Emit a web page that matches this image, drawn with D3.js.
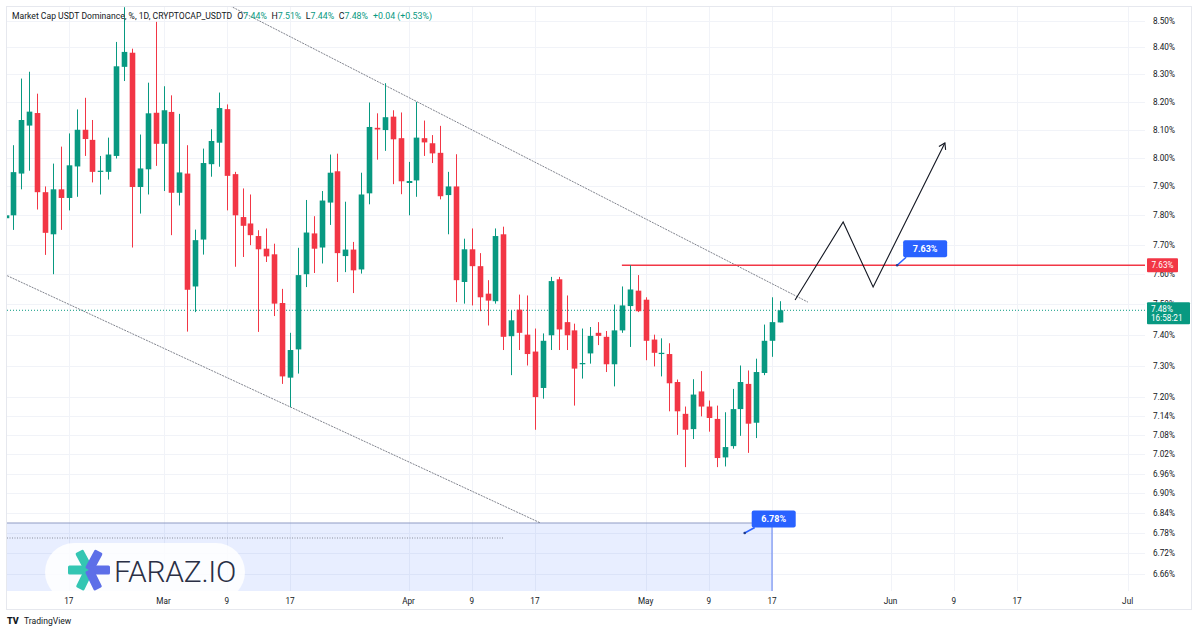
<!DOCTYPE html>
<html><head><meta charset="utf-8">
<script src="https://cdn.jsdelivr.net/npm/d3@7"></script>
<style>
html,body{margin:0;padding:0;background:#fff;}
svg{display:block;font-family:Roboto,"Open Sans",sans-serif;}
</style></head><body>
<svg id="c" width="1200" height="630"></svg>
<script>
// ---------- DATA ----------
const startDate = "2023-02-09"; // first (partly hidden) daily candle
const openVals = [
 7.79, 7.80, 7.945, 8.115, 8.16, 7.88, 7.735, 7.89, 7.86, 7.97,
 8.10, 8.064, 7.953, 7.951, 8.007, 8.328, 8.38, 7.898, 7.96, 8.161,
 8.05, 8.164, 7.878, 7.945, 7.559, 7.717, 7.978, 8.054, 8.174, 7.943,
 7.794, 7.772, 7.729, 7.686, 7.667, 7.504, 7.261, 7.352, 7.60, 7.738,
 7.69, 7.844, 7.953, 7.661, 7.683, 7.616, 7.876, 8.107, 8.099, 8.147,
 8.07, 7.912, 7.921, 8.07, 8.052, 8.018, 7.87, 7.90, 7.574, 7.684,
 7.627, 7.535, 7.51, 7.735, 7.395, 7.482, 7.40, 7.345, 7.228, 7.398,
 7.583, 7.441, 7.414, 7.304, 7.339, 7.406, 7.393, 7.304, 7.414, 7.494,
 7.545, 7.515, 7.384, 7.337, 7.337, 7.247, 7.146, 7.098, 7.217, 7.169,
 7.13, 7.01, 7.045, 7.161, 7.241, 7.118, 7.276, 7.38, 7.44];
const highVals = [
 7.82, 8.045, 8.285, 8.31, 8.23, 7.90, 7.98, 8.04, 8.087, 8.173,
 8.215, 8.135, 8.007, 8.072, 8.42, 8.55, 8.395, 8.083, 8.27, 8.495,
 8.257, 8.224, 8.157, 8.045, 7.751, 8.033, 8.102, 8.234, 8.191, 7.951,
 7.893, 7.872, 7.749, 7.755, 7.703, 7.551, 7.406, 7.689, 7.853, 7.797,
 7.884, 8.012, 8.015, 7.847, 7.709, 7.948, 8.198, 8.159, 8.268, 8.17,
 8.162, 7.986, 8.20, 8.133, 8.081, 8.114, 7.951, 8.013, 7.72, 7.755,
 7.671, 7.58, 7.755, 7.761, 7.48, 7.532, 7.529, 7.42, 7.404, 7.591,
 7.591, 7.529, 7.436, 7.42, 7.425, 7.441, 7.412, 7.499, 7.559, 7.63,
 7.597, 7.523, 7.40, 7.388, 7.372, 7.255, 7.169, 7.256, 7.282, 7.188,
 7.172, 7.151, 7.225, 7.30, 7.284, 7.322, 7.433, 7.523, 7.51];
const lowVals = [
 7.78, 7.75, 7.89, 7.955, 7.82, 7.665, 7.60, 7.75, 7.817, 7.864,
 8.007, 7.914, 7.872, 7.924, 7.998, 8.276, 7.69, 7.806, 7.872, 7.972,
 7.884, 7.732, 7.834, 7.41, 7.474, 7.666, 7.934, 7.969, 7.817, 7.625,
 7.658, 7.698, 7.409, 7.641, 7.461, 7.241, 7.167, 7.274, 7.557, 7.604,
 7.636, 7.767, 7.574, 7.607, 7.537, 7.602, 7.838, 7.994, 8.025, 7.908,
 7.873, 7.80, 7.864, 8.007, 7.982, 7.855, 7.735, 7.507, 7.502, 7.496,
 7.477, 7.43, 7.502, 7.35, 7.269, 7.35, 7.30, 7.096, 7.194, 7.35,
 7.35, 7.35, 7.172, 7.258, 7.306, 7.366, 7.279, 7.233, 7.406, 7.36,
 7.474, 7.317, 7.297, 7.265, 7.154, 7.08, 6.98, 7.067, 7.138, 7.09,
 6.98, 6.982, 7.037, 7.077, 7.024, 7.07, 7.269, 7.328, 7.44];
const closeVals = [
 7.80, 7.95, 8.135, 8.165, 7.88, 7.74, 7.89, 7.86, 7.974, 8.10,
 8.067, 7.951, 7.955, 8.012, 8.33, 8.383, 7.898, 7.963, 8.159, 8.05,
 8.17, 7.878, 7.949, 7.548, 7.715, 7.982, 8.06, 8.178, 7.937, 7.80,
 7.764, 7.732, 7.684, 7.66, 7.502, 7.265, 7.35, 7.597, 7.741, 7.686,
 7.851, 7.948, 7.671, 7.683, 7.613, 7.872, 8.11, 8.101, 8.145, 8.066,
 7.918, 7.919, 8.072, 8.055, 8.016, 7.866, 7.90, 7.58, 7.684, 7.627,
 7.523, 7.512, 7.729, 7.393, 7.447, 7.406, 7.337, 7.199, 7.38, 7.577,
 7.417, 7.398, 7.29, 7.308, 7.396, 7.396, 7.304, 7.414, 7.496, 7.549,
 7.477, 7.38, 7.341, 7.341, 7.243, 7.154, 7.096, 7.207, 7.169, 7.133,
 7.008, 7.042, 7.161, 7.247, 7.115, 7.279, 7.38, 7.441, 7.48];

const priceTicks = [8.50,8.40,8.30,8.20,8.10,8.00,7.90,7.80,7.70,7.60,7.50,7.40,7.30,7.20,7.14,7.08,7.02,6.96,6.90,6.84,6.78,6.72,6.66];
const priceTickLabels = ["8.50%","8.40%","8.30%","8.20%","8.10%","8.00%","7.90%","7.80%","7.70%","7.60%","7.50%","7.40%","7.30%","7.20%","7.14%","7.08%","7.02%","6.96%","6.90%","6.84%","6.78%","6.72%","6.66%"];
const dateTicks = ["2023-02-17","2023-03-01","2023-03-09","2023-03-17","2023-04-01","2023-04-09","2023-04-17","2023-05-01","2023-05-09","2023-05-17","2023-06-01","2023-06-09","2023-06-17","2023-07-01"];
const dateTickLabels = ["17","Mar","9","17","Apr","9","17","May","9","17","Jun","9","17","Jul"];

const upperChannel = [["2023-03-09T10:00Z", 8.555], ["2023-05-21T13:00Z", 7.507]];
const lowerChannel = [["2023-02-09T05:00Z", 7.595], ["2023-04-17T17:00Z", 6.81]];
const projection = [["2023-05-19T22:00Z", 7.514], ["2023-05-26T00:00Z", 7.777], ["2023-05-29T19:00Z", 7.557], ["2023-06-07T21:00Z", 8.053]];
const resistance = {from: "2023-04-28", price: 7.63};
const targetZone = {to: "2023-05-17", top: 6.81, guideEnd: "2023-04-13"};
const lastPrice = 7.48;
const calloutTop = {date: "2023-06-01T20:00Z", price: 7.63, label: "7.63%"};
const calloutBottom = {date: "2023-05-13T13:00Z", price: 6.78, label: "6.78%"};

// ---------- LAYOUT ----------
const L = 7, R = 1145, T = 7, B = 591;
const GREEN = "#089981", RED = "#f23645", BLUE = "#2962ff", TXT = "#131722";
const svg = d3.select("#c");
const x = d3.scaleUtc().domain([new Date("2023-03-17"), new Date("2023-06-17")]).range([290, 1017]);
const y = d3.scaleLog().domain([6.66, 8.50]).range([573.5, 20.5]);

const dayMs = 864e5;
const t0 = new Date(startDate).getTime();
const candles = openVals.map((o, i) => ({
  date: new Date(t0 + i * dayMs), o, h: highVals[i], l: lowVals[i], c: closeVals[i]
}));

svg.append("defs").append("clipPath").attr("id", "plot")
  .append("rect").attr("x", L).attr("y", T).attr("width", R - L).attr("height", B - T);

// frame
svg.append("rect").attr("x", 6.5).attr("y", 6.5).attr("width", 1185).attr("height", 603)
  .attr("fill", "none").attr("stroke", "#e6e8ee");

const plot = svg.append("g").attr("clip-path", "url(#plot)");

// grid
plot.selectAll(".hg").data(priceTicks).enter().append("line")
  .attr("x1", L).attr("x2", R).attr("y1", d => Math.round(y(d)) + .5).attr("y2", d => Math.round(y(d)) + .5)
  .attr("stroke", "#f1f3f8");
plot.selectAll(".vg").data(dateTicks).enter().append("line")
  .attr("y1", T).attr("y2", B).attr("x1", d => Math.round(x(new Date(d))) + .5).attr("x2", d => Math.round(x(new Date(d))) + .5)
  .attr("stroke", "#f1f3f8");

// target zone (blue box)
const zx2 = x(new Date(targetZone.to)), zy = y(targetZone.top);
plot.append("rect").attr("x", L).attr("y", zy).attr("width", zx2 - L).attr("height", B - zy + 5)
  .attr("fill", "rgba(41,98,255,0.11)");
plot.append("line").attr("x1", L).attr("x2", zx2).attr("y1", zy).attr("y2", zy).attr("stroke", "#8f9bc4").attr("stroke-width", 1);
plot.append("line").attr("x1", zx2).attr("x2", zx2).attr("y1", zy).attr("y2", B).attr("stroke", "#5b7cf0").attr("stroke-width", 1);
plot.append("line").attr("x1", L).attr("x2", x(new Date(targetZone.guideEnd))).attr("y1", zy + 15).attr("y2", zy + 15)
  .attr("stroke", "#8a8f9c").attr("stroke-dasharray", "1,1.5").attr("stroke-width", 1);

// channel lines
const line = d3.line().x(d => x(new Date(d[0]))).y(d => y(d[1]));
plot.append("path").attr("d", line(upperChannel)).attr("fill", "none").attr("stroke", "#5f6370").attr("stroke-width", 0.8).attr("stroke-dasharray", "2,1");
plot.append("path").attr("d", line(lowerChannel)).attr("fill", "none").attr("stroke", "#5f6370").attr("stroke-width", 0.8).attr("stroke-dasharray", "2,1");

// last price dotted line
plot.append("line").attr("x1", L).attr("x2", R).attr("y1", y(lastPrice)).attr("y2", y(lastPrice))
  .attr("stroke", GREEN).attr("stroke-dasharray", "1,2").attr("stroke-width", 1);

// resistance line
plot.append("line").attr("x1", x(new Date(resistance.from))).attr("x2", R)
  .attr("y1", y(resistance.price)).attr("y2", y(resistance.price)).attr("stroke", RED).attr("stroke-width", 1.5);

// candles
const bw = 5.6;
const cg = plot.append("g");
cg.selectAll(".w").data(candles).enter().append("line")
  .attr("x1", d => Math.round(x(d.date)) + .5).attr("x2", d => Math.round(x(d.date)) + .5)
  .attr("y1", d => y(d.h)).attr("y2", d => y(d.l))
  .attr("stroke", d => d.c >= d.o ? GREEN : RED).attr("stroke-width", 1);
cg.selectAll(".b").data(candles).enter().append("rect")
  .attr("x", d => Math.round(x(d.date)) + .5 - bw / 2).attr("width", bw)
  .attr("y", d => y(Math.max(d.o, d.c)))
  .attr("height", d => Math.max(1.2, y(Math.min(d.o, d.c)) - y(Math.max(d.o, d.c))))
  .attr("fill", d => d.c >= d.o ? GREEN : RED);

// projection path with arrow
plot.append("path").attr("d", line(projection)).attr("fill", "none").attr("stroke", "#131722").attr("stroke-width", 1.1);
{
  const p1 = projection[projection.length - 2], p2 = projection[projection.length - 1];
  const ax = x(new Date(p2[0])), ay = y(p2[1]), bx = x(new Date(p1[0])), by = y(p1[1]);
  const ang = Math.atan2(ay - by, ax - bx), len = 7;
  const a1 = ang + Math.PI * 0.82, a2 = ang - Math.PI * 0.82;
  plot.append("path").attr("d", `M${ax + len * Math.cos(a1)},${ay + len * Math.sin(a1)}L${ax},${ay}L${ax + len * Math.cos(a2)},${ay + len * Math.sin(a2)}`)
    .attr("fill", "none").attr("stroke", "#131722").attr("stroke-width", 1.1);
}

// watermark logo
const wm = plot.append("g");
wm.append("rect").attr("x", 45).attr("y", 543).attr("width", 200).attr("height", 58).attr("rx", 29).attr("fill", "rgba(255,255,255,0.85)");
{
  const cx = 89, cy = 570;
  const arms = [[-118, "#34c6b3"], [180, "#34c6b3"], [116, "#34c6b3"], [-62, "#5d6fe8"], [0, "#5d6fe8"], [64, "#5d6fe8"]];
  arms.forEach(([a, col]) => {
    wm.append("rect").attr("x", 0).attr("y", -4.5).attr("width", 21).attr("height", 9).attr("rx", 1.5)
      .attr("fill", col).attr("transform", `translate(${cx},${cy}) rotate(${a})`);
  });
  wm.append("text").attr("x", 114).attr("y", 582).attr("font-size", 30).attr("font-weight", 300)
    .attr("fill", "#2a2f45").attr("letter-spacing", -0.3).text("FARAZ.IO");
}

// callouts
function callout(c, dx, dy) {
  const ax = x(new Date(c.date)), ay = y(c.price);
  const bx = ax + dx, bby = ay + dy;
  const g = svg.append("g");
  g.append("line").attr("x1", ax).attr("y1", ay).attr("x2", bx + 3).attr("y2", bby).attr("stroke", BLUE).attr("stroke-width", 1.6);
  g.append("circle").attr("cx", ax).attr("cy", ay).attr("r", 1.3).attr("fill", "#1e3a8a");
  g.append("rect").attr("x", bx).attr("y", bby - 17).attr("width", 44).attr("height", 17).attr("rx", 2).attr("fill", BLUE);
  g.append("text").attr("x", bx + 22).attr("y", bby - 5.5).attr("text-anchor", "middle").attr("font-size", 9).attr("font-weight", 700)
    .attr("fill", "#fff").text(c.label);
}
callout(calloutTop, 6, -8);
callout(calloutBottom, 7, -5.5);

// price axis labels
svg.selectAll(".pl").data(priceTicks).enter().append("text")
  .attr("x", 1153).attr("y", d => y(d) + 3).attr("font-size", 8.2).attr("fill", TXT)
  .text((d, i) => priceTickLabels[i]);

// red price label
svg.append("rect").attr("x", 1147).attr("y", y(resistance.price) - 7).attr("width", 31).attr("height", 14).attr("rx", 1).attr("fill", RED);
svg.append("text").attr("x", 1162.5).attr("y", y(resistance.price) + 3).attr("text-anchor", "middle").attr("font-size", 8.2).attr("fill", "#fff").text("7.63%");
// green last-price label
svg.append("rect").attr("x", 1147).attr("y", y(lastPrice) - 8).attr("width", 43).attr("height", 22).attr("rx", 1).attr("fill", GREEN);
svg.append("text").attr("x", 1151).attr("y", y(lastPrice) + 1.5).attr("font-size", 8.2).attr("fill", "#fff").text("7.48%");
svg.append("text").attr("x", 1151).attr("y", y(lastPrice) + 11).attr("font-size", 8.2).attr("fill", "#fff").text("16:58:21");

// date axis labels
svg.selectAll(".dl").data(dateTicks).enter().append("text")
  .attr("x", d => x(new Date(d))).attr("y", 604).attr("text-anchor", "middle").attr("font-size", 8.2).attr("fill", TXT)
  .text((d, i) => dateTickLabels[i]);

// legend/title
const t = svg.append("text").attr("x", 12).attr("y", 18.5).attr("font-size", 8.6).attr("fill", TXT);
t.append("tspan").text("Market Cap USDT Dominance, %, 1D, CRYPTOCAP_USDTD");
[["O", "7.44%"], ["H", "7.51%"], ["L", "7.44%"], ["C", "7.48%"]].forEach(([k, v], i) => {
  t.append("tspan").attr("dx", i === 0 ? 5 : 4.5).attr("fill", TXT).attr("font-size", 8.8).text(k);
  t.append("tspan").attr("fill", GREEN).attr("font-size", 8.8).text(v);
});
t.append("tspan").attr("dx", 5).attr("fill", GREEN).attr("font-size", 8.8).text("+0.04 (+0.53%)");

// footer
const f = svg.append("g");
f.append("text").attr("x", 7).attr("y", 624).attr("font-size", 9).attr("font-weight", 900).attr("fill", TXT).text("TV");
f.append("text").attr("x", 24).attr("y", 624).attr("font-size", 8.6).attr("fill", TXT).text("TradingView");
</script>
</body></html>
